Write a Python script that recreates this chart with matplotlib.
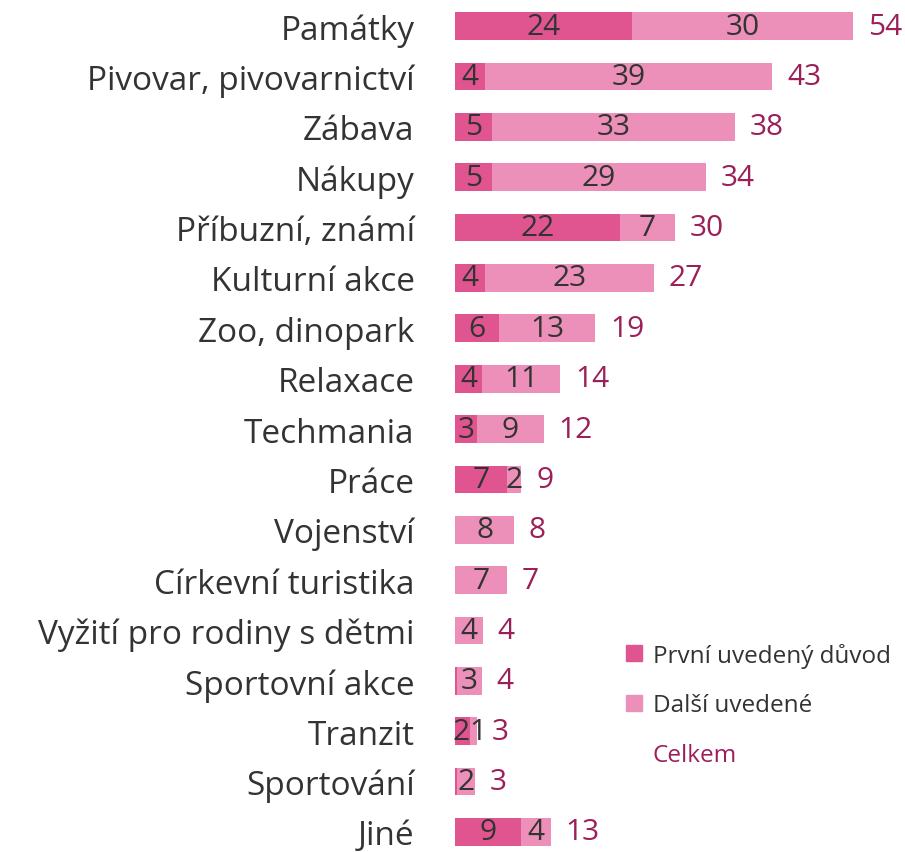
import matplotlib
matplotlib.use("Agg")
import matplotlib.pyplot as plt
from matplotlib.patches import Patch

# ============================================================
# DATA
# ============================================================

categories = [
    "Památky", "Pivovar, pivovarnictví", "Zábava", "Nákupy",
    "Příbuzní, známí", "Kulturní akce", "Zoo, dinopark", "Relaxace",
    "Techmania", "Práce", "Vojenství", "Církevní turistika",
    "Vyžití pro rodiny s dětmi", "Sportovní akce", "Tranzit",
    "Sportování", "Jiné",
]

first_reason = [24, 4, 5, 5, 22.4, 4, 6, 3.7, 3, 7, 0, 0, 0, 0.3, 2, 0.3, 9]
other_reason = [30, 39, 33, 29, 7.4, 23, 13, 10.6, 9, 2, 8, 7, 3.8, 3.3, 1, 2.4, 4]

legend_labels = ["První uvedený důvod", "Další uvedené", "Celkem"]

# ============================================================
# STYLE
# ============================================================

C_FIRST = "#E0558F"
C_OTHER = "#EC90B9"
C_TOTAL = "#9B1F58"
C_TEXT = "#333333"

plt.rcParams["font.family"] = ["Open Sans", "DejaVu Sans"]

# ============================================================
# FIGURE
# ============================================================

fig = plt.figure(figsize=(9.05, 8.53), dpi=100)
ax = fig.add_axes([455 / 905, 0, 450 / 905, 1])

y = list(range(len(categories)))
bar_h = 0.55

ax.barh(y, first_reason, height=bar_h, color=C_FIRST)
ax.barh(y, other_reason, height=bar_h, left=first_reason, color=C_OTHER)

for i in y:
    f = first_reason[i]
    o = other_reason[i]
    # tiny segments: put both labels against the shared boundary
    tight = f >= 1 and 1 <= o < 2
    if f >= 1:
        if tight:
            ax.text(f, i, f"{round(f)}", ha="right", va="center",
                    fontsize=21.5, color=C_TEXT)
        else:
            ax.text(f / 2, i, f"{round(f)}", ha="center", va="center",
                    fontsize=21.5, color=C_TEXT)
    if o >= 1:
        if tight:
            ax.text(f, i, f"{round(o)}", ha="left", va="center",
                    fontsize=21.5, color=C_TEXT)
        else:
            ax.text(f + o / 2, i, f"{round(o)}", ha="center", va="center",
                    fontsize=21.5, color=C_TEXT)
    ax.text(f + o + 2, i, f"{round(f + o)}", ha="left", va="center",
            fontsize=21.5, color=C_TOTAL)

ax.set_xlim(0, 61)
ax.set_ylim(16.4, -0.54)
ax.set_yticks(y)
ax.set_yticklabels(categories, fontsize=24, color=C_TEXT)
ax.tick_params(axis="y", length=0, pad=29)
ax.set_xticks([])
for s in ax.spines.values():
    s.set_visible(False)

handles = [
    Patch(color=C_FIRST),
    Patch(color=C_OTHER),
    Patch(color="none"),
]
leg = fig.legend(
    handles, legend_labels,
    loc="upper left",
    bbox_to_anchor=(604 / 905, 1 - 622 / 853),
    frameon=False,
    fontsize=17.5,
    handlelength=0.65,
    handleheight=0.65,
    handletextpad=0.45,
    labelspacing=1.05,
)
for t in leg.get_texts():
    t.set_color(C_TEXT)
leg.get_texts()[2].set_color(C_TOTAL)

fig.savefig("out.png", dpi=100)
